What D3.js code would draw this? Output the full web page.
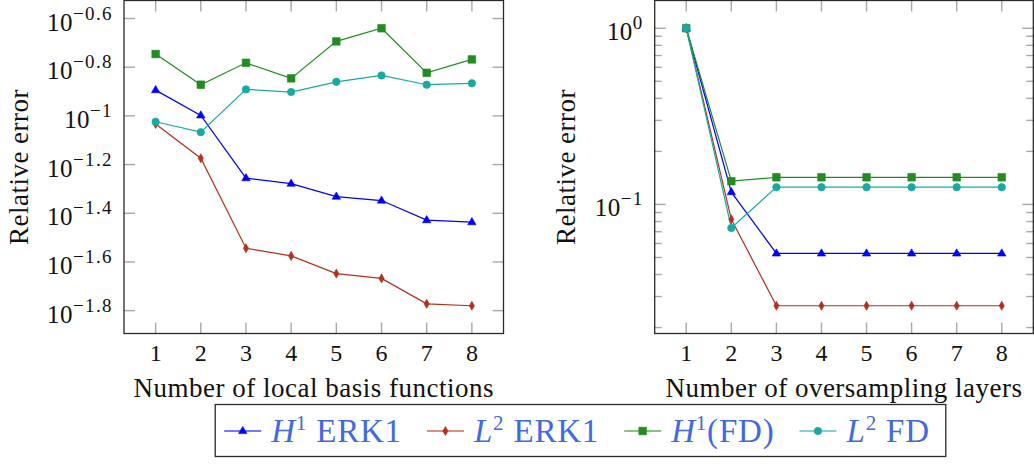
<!DOCTYPE html>
<html>
<head>
<meta charset="utf-8">
<script src="https://cdn.jsdelivr.net/npm/d3@7"></script>
<style>
  html, body { margin: 0; padding: 0; background: #fff; }
  svg { display: block; }
  text { font-family: "Liberation Serif", "Times New Roman", serif; fill: #111; }
</style>
</head>
<body>
<svg id="chart" width="1034" height="464"></svg>
<script>
// ---------------- data ----------------
const basisFunctions = [1, 2, 3, 4, 5, 6, 7, 8];
const oversamplingLayers = [1, 2, 3, 4, 5, 6, 7, 8];

// left panel: relative error vs number of local basis functions
const leftH1ERK1 = [0.1276, 0.1005, 0.0555, 0.0527, 0.0466, 0.0449, 0.0373, 0.0366];
const leftL2ERK1 = [0.0927, 0.0670, 0.0286, 0.0266, 0.0225, 0.0215, 0.0169, 0.0166];
const leftH1FD   = [0.1795, 0.1343, 0.1652, 0.1426, 0.2023, 0.2291, 0.1503, 0.1706];
const leftL2FD   = [0.0946, 0.0857, 0.1285, 0.1253, 0.1380, 0.1466, 0.1343, 0.1361];

// right panel: relative error vs number of oversampling layers
const rightH1ERK1 = [1.0, 0.1174, 0.0527, 0.0527, 0.0527, 0.0527, 0.0527, 0.0527];
const rightL2ERK1 = [1.0, 0.0823, 0.0266, 0.0266, 0.0266, 0.0266, 0.0266, 0.0266];
const rightH1FD   = [1.0, 0.1355, 0.1426, 0.1426, 0.1426, 0.1426, 0.1426, 0.1426];
const rightL2FD   = [1.0, 0.0735, 0.1253, 0.1253, 0.1253, 0.1253, 0.1253, 0.1253];

const xTickLabels = ["1", "2", "3", "4", "5", "6", "7", "8"];
const leftTickExponents = ["-0.6", "-0.8", "-1", "-1.2", "-1.4", "-1.6", "-1.8"];
const rightTickExponents = ["0", "-1"];

const seriesNames = ["H1 ERK1", "L2 ERK1", "H1(FD)", "L2 FD"];
const legendBase = ["H", "L", "H", "L"];
const legendSup = ["1", "2", "1", "2"];
const legendRest = [" ERK1", " ERK1", "(FD)", " FD"];

const xTitles = ["Number of local basis functions", "Number of oversampling layers"];
const yTitle = "Relative error";

// ---------------- styles ----------------
const colors = ["#0000ff", "#b3301f", "#228b22", "#17aaa1"];
const markers = ["triangle", "diamond", "square", "circle"];

const svg = d3.select("#chart");
const TOP = 0.5, BOTTOM = 333.5;
const tickColor = "#a8a8a8";
const frameColor = "#2a2a2a";

function markerPath(type) {
  if (type === "triangle") return "M0,-4.6L4.2,2.6L-4.2,2.6Z";
  if (type === "diamond") return "M0,-4.6L2.6,0L0,4.6L-2.6,0Z";
  if (type === "square") return "M-3.8,-3.8L3.8,-3.8L3.8,3.8L-3.8,3.8Z";
  return d3.symbol(d3.symbolCircle, 44)();
}

function supLabel(sel, exp) {
  sel.append("tspan").text("10");
  sel.append("tspan").attr("font-size", 19).attr("dy", -11).attr("letter-spacing", 1.4)
     .text(exp.replace("-", "\u2212"));
}

function panel(opts) {
  const { x0, x1, xs, series, tickExps, minor, yTitleX, xTitle } = opts;
  const xmin = d3.min(xs), xmax = d3.max(xs);
  const xe = (xmax - xmin) * 0.1;
  const x = d3.scaleLinear().domain([xmin - xe, xmax + xe]).range([x0, x1]);
  const all = series.flat();
  const lmin = Math.log10(d3.min(all)), lmax = Math.log10(d3.max(all));
  const le = (lmax - lmin) * 0.1;
  const y = d3.scaleLog().domain([Math.pow(10, lmin - le), Math.pow(10, lmax + le)]).range([BOTTOM, TOP]);

  const g = svg.append("g");
  const majorLen = 11, minorLen = 7;

  // x ticks (bottom and top)
  xs.forEach((v, i) => {
    const px = x(v);
    g.append("line").attr("x1", px).attr("x2", px).attr("y1", BOTTOM).attr("y2", BOTTOM - majorLen)
      .attr("stroke", tickColor).attr("stroke-width", 1.4);
    g.append("line").attr("x1", px).attr("x2", px).attr("y1", TOP).attr("y2", TOP + majorLen)
      .attr("stroke", tickColor).attr("stroke-width", 1.4);
    g.append("text").attr("x", px).attr("y", 361).attr("text-anchor", "middle")
      .attr("font-size", 24).text(xTickLabels[i]);
  });

  // y minor ticks
  if (minor) {
    const [d0, d1] = y.domain();
    const lo = Math.floor(Math.log10(d0)), hi = Math.ceil(Math.log10(d1));
    for (let e = lo; e < hi; e++) {
      for (let m = 2; m <= 9; m++) {
        const v = m * Math.pow(10, e);
        if (v < d0 || v > d1) continue;
        const py = y(v);
        [[x0, x0 + minorLen], [x1, x1 - minorLen]].forEach(([a, b]) =>
          g.append("line").attr("x1", a).attr("x2", b).attr("y1", py).attr("y2", py)
            .attr("stroke", tickColor).attr("stroke-width", 1.4));
      }
    }
  }
  // y major ticks
  tickExps.forEach(e => {
    const py = y(Math.pow(10, +e));
    [[x0, x0 + majorLen], [x1, x1 - majorLen]].forEach(([a, b]) =>
      g.append("line").attr("x1", a).attr("x2", b).attr("y1", py).attr("y2", py)
        .attr("stroke", tickColor).attr("stroke-width", 1.4));
    const t = g.append("text").attr("x", x0 - 11).attr("y", py + 12)
      .attr("text-anchor", "end").attr("font-size", 25).attr("letter-spacing", 0.4);
    supLabel(t, e);
  });

  // series
  const line = d3.line().x((d, i) => x(xs[i])).y(d => y(d));
  series.forEach((vals, s) => {
    g.append("path").datum(vals).attr("d", line).attr("fill", "none")
      .attr("stroke", colors[s]).attr("stroke-width", 1.2);
  });
  series.forEach((vals, s) => {
    g.selectAll(null).data(vals).enter().append("path")
      .attr("d", markerPath(markers[s]))
      .attr("transform", (d, i) => `translate(${x(xs[i])},${y(d)})`)
      .attr("fill", colors[s]).attr("stroke", colors[s]).attr("stroke-width", 0.6);
  });

  // frame
  g.append("rect").attr("x", x0).attr("y", TOP).attr("width", x1 - x0).attr("height", BOTTOM - TOP)
    .attr("fill", "none").attr("stroke", frameColor).attr("stroke-width", 1.3);

  // titles
  g.append("text").attr("x", (x0 + x1) / 2).attr("y", 397).attr("text-anchor", "middle")
    .attr("font-size", 27).attr("letter-spacing", 0.5).text(xTitle);
  g.append("text").attr("transform", `translate(${yTitleX},${(TOP + BOTTOM) / 2}) rotate(-90)`)
    .attr("text-anchor", "middle").attr("font-size", 27).attr("letter-spacing", 0.5).text(yTitle);
}

panel({ x0: 124, x1: 503.5, xs: basisFunctions,
        series: [leftH1ERK1, leftL2ERK1, leftH1FD, leftL2FD],
        tickExps: leftTickExponents, minor: false, yTitleX: 28, xTitle: xTitles[0] });
panel({ x0: 654.7, x1: 1033.3, xs: oversamplingLayers,
        series: [rightH1ERK1, rightL2ERK1, rightH1FD, rightL2FD],
        tickExps: rightTickExponents, minor: true, yTitleX: 575, xTitle: xTitles[1] });

// ---------------- legend ----------------
const lg = svg.append("g");
const legendColor = "#4169e1";
const ly = 431;
let cx = 0;
const items = [];
seriesNames.forEach((name, i) => {
  const it = lg.append("g");
  it.append("line").attr("x1", 0).attr("x2", 37).attr("y1", 0).attr("y2", 0)
    .attr("stroke", colors[i]).attr("stroke-width", 1.4).attr("opacity", 0.7);
  it.append("path").attr("d", markerPath(markers[i])).attr("transform", "translate(18.5,0)")
    .attr("fill", colors[i]).attr("stroke", colors[i]).attr("stroke-width", 0.6);
  const t = it.append("text").attr("x", 47).attr("y", 11).attr("font-size", 33)
    .attr("letter-spacing", 0.8).style("fill", legendColor);
  t.append("tspan").attr("font-style", "italic").text(legendBase[i]);
  t.append("tspan").attr("font-size", 21).attr("dy", -12).text(legendSup[i]);
  t.append("tspan").attr("dy", 12).text(legendRest[i]);
  const w = 47 + t.node().getComputedTextLength();
  items.push({ it, w });
});
const gap = 25, padL = 9, padR = 16;
const total = items.reduce((a, b) => a + b.w, 0) + gap * (items.length - 1);
const boxW = padL + total + padR;
const boxX = 580.5 - boxW / 2;
lg.append("rect").attr("x", boxX).attr("y", 404.5).attr("width", boxW).attr("height", 52)
  .attr("fill", "#fff").attr("stroke", frameColor).attr("stroke-width", 1.3).lower();
cx = boxX + padL;
items.forEach(({ it, w }) => {
  it.attr("transform", `translate(${cx},${ly})`);
  cx += w + gap;
});
</script>
</body>
</html>
